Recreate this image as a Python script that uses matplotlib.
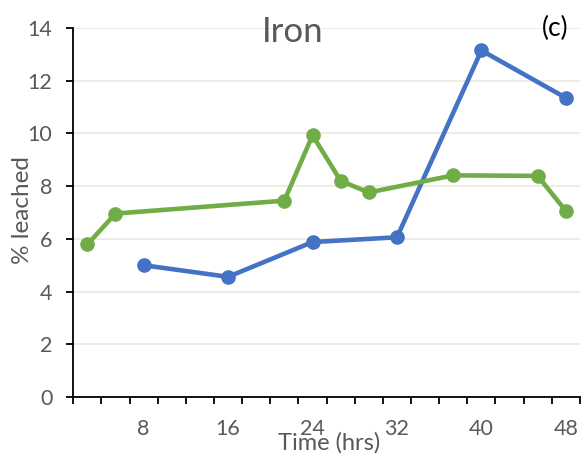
import matplotlib
matplotlib.use("Agg")
import matplotlib.pyplot as plt
import numpy as np

plt.rcParams['font.family'] = ['Lato', 'DejaVu Sans']

# Data (hours, % leached)
blue_time = [8, 16, 24, 32, 40, 48]
blue_vals = [5.0, 4.56, 5.88, 6.06, 13.15, 11.35]
green_time = [2.67, 5.33, 21.33, 24, 26.67, 29.33, 37.33, 45.33, 48]
green_vals = [5.79, 6.96, 7.45, 9.93, 8.2, 7.76, 8.41, 8.39, 7.06]
x_labels = [8, 16, 24, 32, 40, 48]
y_ticks = [0, 2, 4, 6, 8, 10, 12, 14]

GRAY = '#595959'
fig = plt.figure(figsize=(5.84, 4.59), dpi=100)
ax = fig.add_axes([0.1255, 0.135, 0.8675, 0.804])

ax.plot(blue_time, blue_vals, color='#4472C4', lw=3.3, marker='o', ms=9.5,
        solid_capstyle='round', zorder=3)
ax.plot(green_time, green_vals, color='#70AD47', lw=3.3, marker='o', ms=9.5,
        solid_capstyle='round', zorder=3)

step = 8 / 3
ax.set_xlim(step / 2, 48 + step / 2)
ax.set_ylim(0, 14)

ax.set_yticks(y_ticks)
ax.set_yticklabels([str(v) for v in y_ticks])
ax.yaxis.grid(True, color='#EEEBE0', lw=1.3)
ax.set_axisbelow(True)

ax.set_xticks(x_labels)
ax.set_xticklabels([str(v) for v in x_labels])
ax.set_xticks(np.arange(step / 2, 48 + step, step), minor=True)
ax.tick_params(axis='x', which='major', length=0, pad=16, labelsize=15.5, labelcolor=GRAY)
ax.tick_params(axis='x', which='minor', length=5, width=1.3, direction='out', color='black')
ax.tick_params(axis='y', length=5, width=1.3, direction='out', color='black', pad=10,
               labelsize=15.5, labelcolor=GRAY)

for s in ['top', 'right']:
    ax.spines[s].set_visible(False)
for s in ['left', 'bottom']:
    ax.spines[s].set_color('black')
    ax.spines[s].set_linewidth(1.3)

fig.text(0.502, 0.930, 'Iron', ha='center', va='center', fontsize=25, color=GRAY)
fig.text(0.950, 0.939, '(c)', ha='center', va='center', fontsize=19, color='black')
fig.text(0.563, 0.035, 'Time (hrs)', ha='center', va='center', fontsize=17, color=GRAY)
fig.text(0.038, 0.542, '% leached', ha='center', va='center', rotation=90, fontsize=17.5, color=GRAY)

fig.savefig('out.png', dpi=100)
